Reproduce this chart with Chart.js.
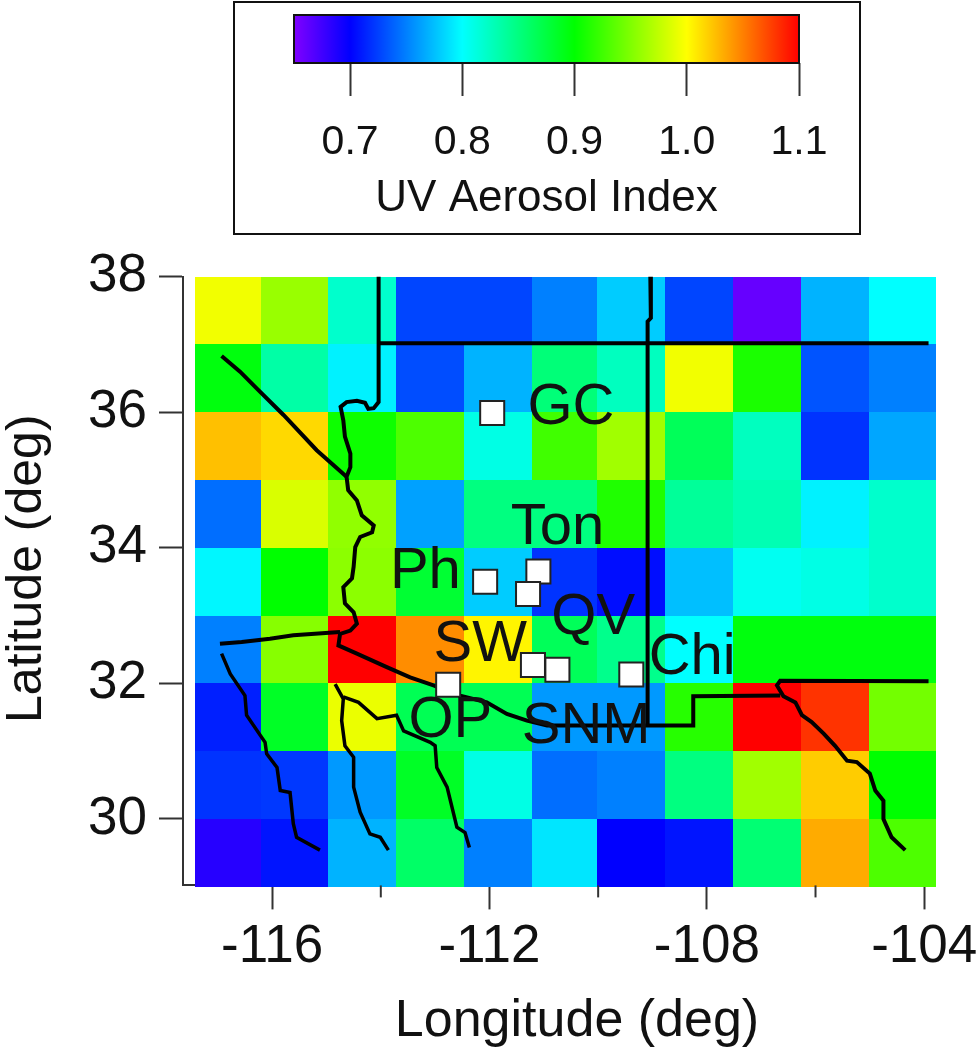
<!DOCTYPE html>
<html>
<head>
<meta charset="utf-8">
<title>UV Aerosol Index</title>
<script src="https://cdn.jsdelivr.net/npm/chart.js@4/dist/chart.umd.min.js"></script>
<style>
  html, body { margin: 0; padding: 0; background: #fff; }
  #page { position: relative; width: 978px; height: 1050px; overflow: hidden; }
  #mapChart { position: absolute; left: 0; top: 0; }
  #legendBox { position: absolute; left: 233px; top: 1px; width: 624px; height: 230px; border: 2px solid #111; }
  #legendChart { position: absolute; left: 0; top: -1px; }
</style>
</head>
<body>
<div id="page">
  <canvas id="mapChart" width="978" height="1050" style="width:978px;height:1050px"></canvas>
  <div id="legendBox"><canvas id="legendChart" width="624" height="232" style="width:624px;height:232px"></canvas></div>
</div>
<script>
// grid cells, west to east / north to south
const lonEdges = [-117.42, -116.20, -114.97, -113.72, -112.47, -111.22, -110.02, -108.77, -107.52, -106.27, -105.02, -103.78];
const latEdges = [38, 37, 36, 35, 34, 33, 32, 31, 30, 29];
const uvIndex = [
    [0.995, 0.960, 0.820, 0.727, 0.727, 0.750, 0.780, 0.727, 0.660, 0.770, 0.800],
    [0.895, 0.835, 0.795, 0.730, 0.770, 0.853, 0.825, 0.995, 0.910, 0.733, 0.750],
    [1.025, 1.015, 0.905, 0.930, 0.810, 0.925, 0.963, 0.865, 0.825, 0.720, 0.765],
    [0.743, 0.985, 0.957, 0.763, 0.850, 0.850, 0.912, 0.840, 0.830, 0.795, 0.820],
    [0.797, 0.900, 0.955, 0.880, 0.780, 0.720, 0.705, 0.775, 0.805, 0.810, 0.820],
    [0.750, 0.953, 1.100, 1.045, 1.004, 0.865, 0.845, 0.800, 0.895, 0.895, 0.895],
    [0.712, 0.885, 0.992, 0.867, 0.867, 0.760, 0.760, 0.915, 1.100, 1.080, 0.945],
    [0.720, 0.722, 0.760, 0.885, 0.810, 0.743, 0.750, 0.850, 0.963, 1.020, 0.900],
    [0.685, 0.708, 0.770, 0.860, 0.750, 0.790, 0.700, 0.708, 0.855, 1.033, 0.930]
];

// colour bar
const cbStops = [0.65, 0.7, 0.8, 0.9, 1.0, 1.05, 1.1];
const cbColors = [[128,0,255], [0,0,255], [0,255,255], [0,255,0], [255,255,0], [255,128,0], [255,0,0]];
const cbTicks = [0.7, 0.8, 0.9, 1.0, 1.1];

// axis ticks
const xTicks = [-116, -112, -108, -104];
const xMinorTicks = [-114, -110, -106];
const yTicks = [30, 32, 34, 36, 38];

// sites and their labels
const siteLon = [-111.95, -112.08, -111.10, -111.29, -111.20, -110.75, -112.76, -109.39];
const siteLat = [35.99, 33.50, 33.65, 33.32, 32.27, 32.20, 31.98, 32.13];
const labelNames = ['GC', 'Ton', 'Ph', 'QV', 'SW', 'OP', 'SNM', 'Chi'];
const labelLon = [-110.50, -110.75, -113.18, -110.09, -112.17, -112.72, -110.22, -108.27];
const labelLat = [36.07, 34.29, 33.64, 32.96, 32.56, 31.45, 31.36, 32.37];

// state borders, lon/lat
const caNevada = [[-116.93,36.83],[-116.59,36.60],[-116.28,36.35],[-115.79,35.96],[-115.18,35.44],[-114.63,35.05]];
const coloradoRiver = [[-114.04,38.00],[-114.04,36.15],[-114.13,36.06],[-114.23,36.05],[-114.29,36.14],[-114.44,36.17],[-114.63,36.15],[-114.74,36.08],[-114.69,35.88],[-114.66,35.64],[-114.56,35.39],[-114.56,35.19],[-114.63,35.05],[-114.60,34.85],[-114.44,34.70],[-114.35,34.48],[-114.13,34.33],[-114.16,34.23],[-114.38,34.16],[-114.47,34.01],[-114.50,33.72],[-114.53,33.55],[-114.69,33.42],[-114.66,33.18],[-114.50,33.05],[-114.44,32.88],[-114.56,32.78],[-114.75,32.73],[-114.78,32.56],[-114.44,32.44],[-113.89,32.24],[-113.46,32.09],[-113.03,31.97],[-112.54,31.82],[-112.05,31.72],[-111.68,31.55],[-111.31,31.45],[-110.94,31.38],[-108.25,31.38],[-108.25,31.81],[-106.65,31.82]];
const caMexico = [[-114.75,32.76],[-115.61,32.71],[-116.04,32.66],[-116.56,32.61],[-116.96,32.585]];
const lat37 = [[-114.04,37.02],[-103.92,37.02]];
const azNm = [[-109.04,38.00],[-109.03,37.39],[-109.09,37.34],[-109.09,31.38]];
const nmTexas = [[-103.92,32.03],[-106.65,32.04],[-106.71,31.97],[-106.59,31.81],[-106.37,31.72],[-106.25,31.53],[-106.07,31.43],[-105.85,31.26],[-105.64,31.08],[-105.42,30.86],[-105.24,30.84],[-105.00,30.67],[-104.90,30.42],[-104.75,30.27],[-104.75,30.00],[-104.60,29.73],[-104.35,29.54]];
const river1 = [[-116.93,32.44],[-116.77,32.14],[-116.50,31.82],[-116.47,31.53],[-116.13,31.13],[-116.10,30.96],[-115.91,30.76],[-115.85,30.42],[-115.67,30.39],[-115.61,29.93],[-115.55,29.73],[-115.12,29.54]];
const river2 = [[-114.84,31.99],[-114.69,31.77],[-114.72,31.45],[-114.66,31.08],[-114.50,30.91],[-114.50,30.47],[-114.38,30.10],[-114.20,29.78],[-114.01,29.73],[-113.86,29.54]];
const river3 = [[-114.69,31.80],[-114.41,31.72],[-114.07,31.48],[-113.71,31.53],[-113.58,31.30],[-113.09,31.13],[-113.00,31.08],[-112.97,30.76],[-112.78,30.47],[-112.60,29.88],[-112.45,29.80],[-112.37,29.58]];

const FONT = '"Liberation Sans", Arial, sans-serif';
const INK = '#111';
const AXIS = '#333';

// value to rainbow colour
function colorFor(v) {
    let i = 0;
    while (i < cbStops.length - 2 && v > cbStops[i + 1]) i++;
    const t = Math.min(1, Math.max(0, (v - cbStops[i]) / (cbStops[i + 1] - cbStops[i])));
    const a = cbColors[i], b = cbColors[i + 1];
    return `rgb(${a.map((c, k) => Math.round(c + (b[k] - c) * t)).join(',')})`;
}

const heatCells = {
    id: 'heatCells',
    beforeDatasetsDraw(chart) {
        const { ctx, scales: { x, y } } = chart;
        ctx.save();
        uvIndex.forEach((row, r) => {
            row.forEach((v, c) => {
                const left = Math.round(x.getPixelForValue(lonEdges[c]));
                const right = Math.round(x.getPixelForValue(lonEdges[c + 1]));
                const top = Math.round(y.getPixelForValue(latEdges[r]));
                const bottom = Math.round(y.getPixelForValue(latEdges[r + 1]));
                ctx.fillStyle = colorFor(v);
                ctx.fillRect(left, top, right - left, bottom - top);
            });
        });
        ctx.restore();
    }
};

// short unlabelled ticks between the long ones
const minorTicks = {
    id: 'minorTicks',
    afterDraw(chart) {
        const { ctx, scales: { x } } = chart;
        ctx.save();
        ctx.strokeStyle = AXIS;
        ctx.lineWidth = 2;
        xMinorTicks.forEach(v => {
            const px = x.getPixelForValue(v);
            ctx.beginPath();
            ctx.moveTo(px, x.top);
            ctx.lineTo(px, x.top + 12);
            ctx.stroke();
        });
        ctx.restore();
    }
};

const siteLabels = {
    id: 'siteLabels',
    afterDatasetsDraw(chart) {
        const { ctx, scales: { x, y } } = chart;
        ctx.save();
        ctx.font = '58px ' + FONT;
        ctx.fillStyle = INK;
        ctx.textAlign = 'center';
        ctx.textBaseline = 'middle';
        labelNames.forEach((name, i) => {
            ctx.fillText(name, x.getPixelForValue(labelLon[i]), y.getPixelForValue(labelLat[i]));
        });
        ctx.restore();
    }
};

// axis titles sit off centre in the original, so they are placed by hand
const axisTitles = {
    id: 'axisTitles',
    afterDraw(chart) {
        const { ctx, chartArea: a } = chart;
        ctx.save();
        ctx.fillStyle = INK;
        ctx.textAlign = 'center';
        ctx.textBaseline = 'middle';
        ctx.font = '52px ' + FONT;
        ctx.fillText('Longitude (deg)', a.left + 394, a.bottom + 136);
        ctx.font = '50px ' + FONT;
        ctx.translate(27, a.top + 292);
        ctx.rotate(-Math.PI / 2);
        ctx.fillText('Latitude (deg)', 0, 0);
        ctx.restore();
    }
};

function borderLine(points, width) {
    return {
        type: 'scatter',
        data: points.map(p => ({ x: p[0], y: p[1] })),
        showLine: true,
        borderColor: '#000',
        borderWidth: width,
        pointRadius: 0,
        fill: false,
        clip: false,
        tension: 0
    };
}

new Chart(document.getElementById('mapChart'), {
    type: 'scatter',
    data: {
        datasets: [
            {
                data: siteLon.map((lon, i) => ({ x: lon, y: siteLat[i] })),
                pointStyle: 'rect',
                pointRadius: 17,
                backgroundColor: '#fff',
                borderColor: '#222',
                borderWidth: 2,
                clip: false
            },
            borderLine(coloradoRiver, 4),
            borderLine(caNevada, 4),
            borderLine(caMexico, 4),
            borderLine(lat37, 4),
            borderLine(azNm, 4),
            borderLine(nmTexas, 4),
            borderLine(river1, 3.5),
            borderLine(river2, 3.5),
            borderLine(river3, 3.5)
        ]
    },
    options: {
        responsive: false,
        animation: false,
        layout: { padding: { left: 0, right: 50, top: 276.7, bottom: 0 } },
        plugins: { legend: { display: false }, tooltip: { enabled: false } },
        scales: {
            x: {
                type: 'linear',
                min: -117.64,
                max: -103.93,
                afterBuildTicks(scale) { scale.ticks = xTicks.map(v => ({ value: v })); },
                afterFit(scale) { scale.height = 164.6; scale.paddingLeft = 0; scale.paddingRight = 0; },
                grid: { display: true, drawOnChartArea: false, drawTicks: true, tickLength: 24, tickWidth: 2, tickColor: AXIS },
                border: { display: true, color: AXIS, width: 2 },
                ticks: { autoSkip: false, maxRotation: 0, color: INK, font: { family: FONT, size: 53 }, padding: 6 }
            },
            y: {
                type: 'linear',
                min: 29.02,
                max: 38,
                afterBuildTicks(scale) { scale.ticks = yTicks.map(v => ({ value: v })); },
                afterFit(scale) { scale.width = 183; scale.paddingTop = 0; scale.paddingBottom = 0; },
                grid: { display: true, drawOnChartArea: false, drawTicks: true, tickLength: 24, tickWidth: 2, tickColor: AXIS },
                border: { display: true, color: AXIS, width: 2 },
                ticks: { autoSkip: false, color: INK, font: { family: FONT, size: 53 }, padding: 12 }
            }
        }
    },
    plugins: [heatCells, minorTicks, siteLabels, axisTitles]
});

// colour bar is its own small chart, the axis gives the positions
const colorBar = {
    id: 'colorBar',
    beforeDatasetsDraw(chart) {
        const { ctx, chartArea: a, scales: { x } } = chart;
        const grad = ctx.createLinearGradient(x.getPixelForValue(x.min), 0, x.getPixelForValue(x.max), 0);
        cbStops.forEach(v => {
            grad.addColorStop((v - x.min) / (x.max - x.min), colorFor(v));
        });
        ctx.save();
        ctx.fillStyle = grad;
        ctx.fillRect(a.left, a.top, a.right - a.left, a.bottom - a.top);
        ctx.strokeStyle = INK;
        ctx.lineWidth = 2;
        ctx.strokeRect(a.left, a.top, a.right - a.left, a.bottom - a.top);
        ctx.restore();
    }
};

new Chart(document.getElementById('legendChart'), {
    type: 'scatter',
    data: { datasets: [{ data: [] }] },
    options: {
        responsive: false,
        animation: false,
        layout: { padding: { left: 59, right: 60, top: 13, bottom: 0 } },
        plugins: { legend: { display: false }, tooltip: { enabled: false } },
        scales: {
            x: {
                type: 'linear',
                min: 0.65,
                max: 1.1,
                afterBuildTicks(scale) { scale.ticks = cbTicks.map(v => ({ value: v })); },
                afterFit(scale) { scale.height = 171; },
                grid: { display: true, drawOnChartArea: false, drawTicks: true, tickLength: 33, tickWidth: 2, tickColor: AXIS },
                border: { display: false },
                ticks: {
                    autoSkip: false,
                    maxRotation: 0,
                    color: INK,
                    font: { family: FONT, size: 41 },
                    padding: 22,
                    callback: v => Number(v).toFixed(1)
                },
                title: { display: true, text: 'UV Aerosol Index', color: INK, font: { family: FONT, size: 44 }, padding: { top: 0, bottom: 9 } }
            },
            y: { display: false, min: 0, max: 1 }
        }
    },
    plugins: [colorBar]
});
</script>
</body>
</html>
